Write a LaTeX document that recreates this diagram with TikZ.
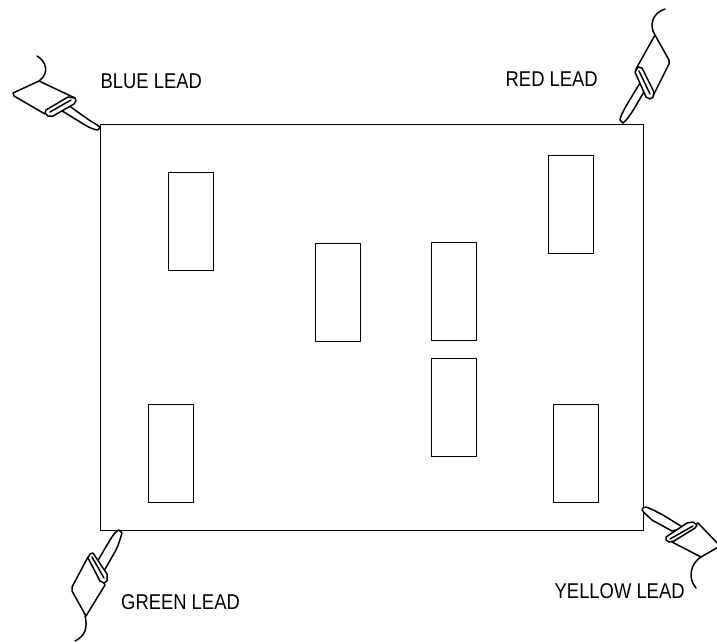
\documentclass[tikz,border=0pt]{standalone}
\usepackage{fontspec}
\setmainfont[FakeStretch=0.86]{Liberation Sans}
\begin{document}
\begin{tikzpicture}[x=1pt,y=-1pt,
  probe/.style={draw=black,line width=1.5pt,line join=round,line cap=round,fill=white},
  part/.style={draw=black,line width=1pt,minimum width=45pt,minimum height=98.5pt,inner sep=0pt,anchor=north west},
  lbl/.style={font=\fontsize{21.4pt}{24pt}\selectfont,text=black,inner sep=0pt,anchor=west}]
\path[use as bounding box] (0,0) rectangle (717,641);
\clip (0,0) rectangle (717,641);
\node[draw=black,line width=1pt,inner sep=0pt,minimum width=543pt,minimum height=406pt,anchor=north west] (board) at (99.6,123.6) {};
\node[part] (u1) at (167.6,171.6) {};
\node[part] (u2) at (314.6,242.6) {};
\node[part] (u3) at (430.6,241.6) {};
\node[part] (u4) at (547.6,154.6) {};
\node[part] (u5) at (430.6,357.6) {};
\node[part] (u6) at (147.6,403.6) {};
\node[part] (u7) at (552.6,403.6) {};
\node[lbl] (blue) at (100.5,81.5) {BLUE LEAD};
\node[lbl] (red) at (505.5,79.5) {RED LEAD};
\node[lbl] (green) at (121,602) {GREEN LEAD};
\node[lbl] (yellow) at (554.5,591) {YELLOW LEAD};
% blue lead
\draw[probe] (37,56) .. controls (46,61) and (50,73) .. (39,81);
\draw[probe] (39,81) -- (75,98) -- (45,114) -- (14,96) -- (13,93) -- cycle;
\draw[probe] (59,109) -- (85,125) .. controls (90,128) and (95,130) .. (98,130) -- (100,127) .. controls (96,124) and (92,122) .. (89,120) -- (68,105) -- cycle;
\draw[probe] (46,110) -- (68,97) -- (75,98) -- (76,101) -- (74,104) -- (53,116) -- (48,116) -- (45,113) -- cycle;
\draw[probe] (50,112) -- (71,100);
% red lead
\draw[probe] (665,9) .. controls (652,13) and (649,26) .. (655,35);
\draw[probe] (655,35) -- (669,60) -- (669,64) -- (652,98) -- (636,69) -- cycle;
\draw[probe] (640,83) -- (626,106) .. controls (623,112) and (620,117) .. (620,120) -- (623,123) .. controls (627,120) and (630,115) .. (634,109) -- (645,90) -- cycle;
\draw[probe] (635,72) -- (638,67) -- (642,68) -- (654,92) -- (653,97) -- (650,99) -- (646,97) -- cycle;
\draw[probe] (639,71) -- (650,94);
% green lead
\draw[probe] (85,616) .. controls (88,628) and (85,636) .. (75,641);
\draw[probe] (86,616) -- (72,591) -- (72,587) -- (88,557) -- (105,585) -- cycle;
\draw[probe] (97,562) -- (110,540) .. controls (113,535) and (116,531) .. (119,530) -- (122,533) .. controls (120,539) and (119,544) .. (116,550) -- (104,571) -- cycle;
\draw[probe] (88,558) -- (90,554) -- (93,553) -- (107,574) -- (107,581) -- (104,583) -- (100,581) -- cycle;
\draw[probe] (92,557) -- (104,578);
% yellow lead
\draw[probe] (701,557) .. controls (691,563) and (687,578) .. (696,588);
\draw[probe] (701,557) -- (720,546) -- (698,523) -- (672,542) -- cycle;
\draw[probe] (643,508) -- (646,507) .. controls (652,509) and (657,512) .. (663,515) -- (684,528) -- (672,531) -- (652,520) .. controls (648,516) and (644,513) .. (642,510) -- cycle;
\draw[probe] (666,537) -- (687,523) -- (693,522) -- (697,525) -- (695,528) -- (674,541) -- (669,542) -- (666,540) -- cycle;
\draw[probe] (670,539) -- (693,526);
\end{tikzpicture}
\end{document}
